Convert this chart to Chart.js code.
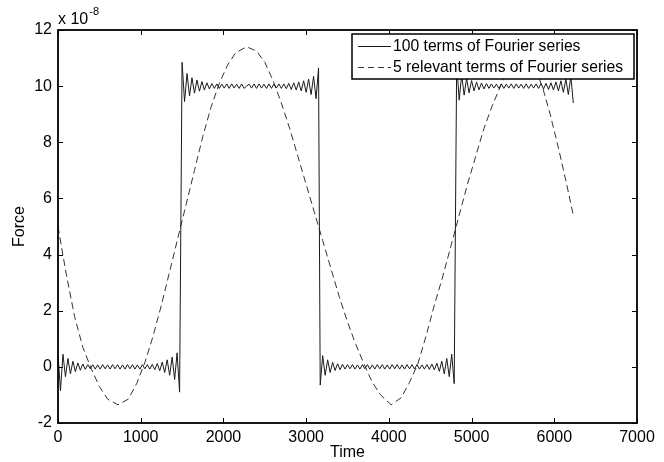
<!DOCTYPE html>
<html>
<head>
<meta charset="utf-8">
<script src="https://cdn.jsdelivr.net/npm/chart.js@4.4.1/dist/chart.umd.min.js"></script>
<style>
  html, body { margin: 0; padding: 0; background: #fff; }
</style>
</head>
<body>
<canvas id="forceChart" width="664" height="462"></canvas>
<script>
// tick values (force is in units of 1e-8)
const xTicks = [0, 1000, 2000, 3000, 4000, 5000, 6000, 7000];
const yTicks = [-2, 0, 2, 4, 6, 8, 10, 12];
const seriesLabels = ['100 terms of Fourier series', '5 relevant terms of Fourier series'];

const solidStarts = [0, 1500, 3170, 4820];
const solidStep = 30;
const solidLow1 = [0.45, -0.85, 0.45, -0.35, 0.3, -0.25, 0.2, -0.17, 0.14, -0.12,
    0.1, -0.09, 0.08, -0.07, 0.08, -0.08, 0.07, -0.08, 0.08, -0.07,
    0.07, -0.08, 0.08, -0.07, 0.08, -0.08, 0.07, -0.08, 0.08, -0.07,
    0.08, -0.08, 0.07, -0.08, 0.08, -0.07, 0.08, -0.08, 0.09, -0.1,
    0.12, -0.14, 0.17, -0.2, 0.25, -0.3, 0.35, -0.45, 0.5, -0.9];
const solidHigh1 = [10.85, 9.45, 10.45, 9.65, 10.3, 9.75, 10.22, 9.82, 10.16, 9.86,
    10.12, 9.9, 10.09, 9.92, 10.08, 9.92, 10.07, 9.93, 10.08, 9.92,
    10.08, 9.93, 10.07, 9.92, 10.08, 9.92, 10.0, 10.07, 9.93, 10.08,
    9.92, 10.08, 9.93, 10.07, 9.92, 10.08, 9.92, 10.07, 9.93, 10.08,
    9.92, 10.08, 9.91, 10.1, 9.88, 10.12, 9.86, 10.15, 9.83, 10.19,
    9.78, 10.25, 9.7, 10.35, 9.55, 10.65];
const solidLow2 = [-0.65, 0.4, -0.3, 0.25, -0.2, 0.16, -0.13, 0.11, -0.1, 0.09,
    -0.08, 0.08, -0.07, 0.08, -0.08, 0.07, -0.08, 0.08, -0.07, 0.08,
    -0.08, 0.07, -0.08, 0.08, -0.07, 0.08, -0.08, 0.07, -0.08, 0.08,
    -0.07, 0.08, -0.08, 0.07, -0.08, 0.08, -0.07, 0.08, -0.08, 0.08,
    -0.08, 0.07, -0.08, 0.08, -0.09, 0.1, -0.11, 0.13, -0.16, 0.2,
    -0.25, 0.3, -0.35, 0.45, -0.6];
const solidHigh2 = [10.85, 9.5, 10.4, 9.68, 10.28, 9.76, 10.2, 9.83, 10.15, 9.87,
    10.11, 9.9, 10.09, 9.92, 10.08, 9.93, 10.07, 9.92, 10.08, 9.92,
    10.07, 9.93, 10.08, 9.92, 10.08, 9.93, 10.07, 9.92, 10.08, 9.92,
    10.07, 9.93, 10.08, 9.92, 10.09, 9.9, 10.1, 9.88, 10.12, 9.86,
    10.15, 9.83, 10.19, 9.78, 10.25, 9.7, 10.35, 9.4];

// 5-term series
const dashTime = [0, 100, 200, 300, 400, 500, 600, 725, 850, 950,
    1050, 1150, 1250, 1350, 1450, 1550, 1650, 1750, 1850, 1950,
    2050, 2150, 2281, 2400, 2500, 2600, 2700, 2800, 2900, 3000,
    3100, 3200, 3300, 3400, 3500, 3600, 3700, 3800, 3900, 4027,
    4150, 4250, 4350, 4450, 4550, 4650, 4750, 4850, 4950, 5050,
    5150, 5250, 5350, 5450, 5600, 5750, 5864, 5950, 6050, 6150, 6230];
const dashForce = [5.0, 3.3, 1.8, 0.7, -0.05, -0.7, -1.15, -1.35, -1.15, -0.6,
    0.15, 1.1, 2.2, 3.4, 4.6, 5.8, 7.0, 8.2, 9.25, 10.1,
    10.75, 11.2, 11.4, 11.25, 10.85, 10.2, 9.4, 8.5, 7.5, 6.5,
    5.5, 4.5, 3.5, 2.5, 1.6, 0.8, 0.1, -0.55, -1.0, -1.35,
    -1.1, -0.55, 0.1, 1.1, 2.2, 3.2, 4.3, 5.4, 6.5, 7.5,
    8.5, 9.3, 10.0, 10.6, 11.2, 10.8, 9.9, 9.0, 7.8, 6.5, 5.4];

const solidPoints = [];
[solidLow1, solidHigh1, solidLow2, solidHigh2].forEach((run, i) => {
    run.forEach((v, j) => solidPoints.push({ x: solidStarts[i] + j * solidStep, y: v }));
});
const dashPoints = dashTime.map((t, i) => ({ x: t, y: dashForce[i] }));

const fontFamily = '"Liberation Sans", Arial, sans-serif';
const axisFont = { family: fontFamily, size: 16 };

// box, inward ticks, boxed legend and the x 10^-8 multiplier, matlab style
const matlabFrame = {
    id: 'matlabFrame',
    afterDatasetsDraw(chart) {
        const { ctx, chartArea: a, scales: { x, y } } = chart;
        ctx.save();
        ctx.strokeStyle = '#000';
        ctx.lineWidth = 1;
        ctx.beginPath();
        xTicks.forEach(v => {
            const px = Math.round(x.getPixelForValue(v)) + 0.5;
            ctx.moveTo(px, a.bottom); ctx.lineTo(px, a.bottom - 5);
            ctx.moveTo(px, a.top); ctx.lineTo(px, a.top + 5);
        });
        yTicks.forEach(v => {
            const py = Math.round(y.getPixelForValue(v)) + 0.5;
            ctx.moveTo(a.left, py); ctx.lineTo(a.left + 5, py);
            ctx.moveTo(a.right, py); ctx.lineTo(a.right - 5, py);
        });
        ctx.stroke();
        ctx.lineWidth = 1.8;
        ctx.strokeRect(a.left, a.top, a.right - a.left, a.bottom - a.top);

        // legend
        const lx = 352, ly = 34, lw = 282, lh = 45;
        ctx.fillStyle = '#fff';
        ctx.fillRect(lx, ly, lw, lh);
        ctx.lineWidth = 1.5;
        ctx.strokeRect(lx, ly, lw, lh);
        ctx.font = '15.7px ' + fontFamily;
        ctx.textBaseline = 'middle';
        ctx.textAlign = 'left';
        chart.data.datasets.forEach((ds, i) => {
            const ry = ly + 12 + i * 21;
            ctx.strokeStyle = ds.borderColor;
            ctx.lineWidth = 1;
            ctx.setLineDash(ds.borderDash ? [6, 4] : []);
            ctx.beginPath();
            ctx.moveTo(lx + 6, ry + 0.5);
            ctx.lineTo(lx + 39, ry + 0.5);
            ctx.stroke();
            ctx.setLineDash([]);
            ctx.fillStyle = '#000';
            ctx.fillText(ds.label, lx + 41, ry + 1);
        });

        // exponent
        ctx.textBaseline = 'alphabetic';
        ctx.fillStyle = '#000';
        ctx.font = '16px ' + fontFamily;
        ctx.fillText('x 10', a.left, a.top - 6);
        const w = ctx.measureText('x 10').width;
        ctx.font = '11px ' + fontFamily;
        ctx.fillText('-8', a.left + w + 1, a.top - 15);
        ctx.restore();
    }
};

const ctx = document.getElementById('forceChart').getContext('2d');
const forceChart = new Chart(ctx, {
    type: 'line',
    data: {
        datasets: [
            { label: seriesLabels[0], data: solidPoints, borderColor: '#1a1a1a', borderWidth: 1,
              pointRadius: 0, tension: 0 },
            { label: seriesLabels[1], data: dashPoints, borderColor: '#333', borderWidth: 1,
              borderDash: [7, 4], pointRadius: 0, tension: 0 }
        ]
    },
    options: {
        responsive: false,
        animation: false,
        layout: { padding: { top: 30, right: 27, left: 0, bottom: 0 } },
        plugins: { legend: { display: false }, tooltip: { enabled: false } },
        scales: {
            x: {
                type: 'linear', min: 0, max: 7000,
                afterBuildTicks: s => { s.ticks = xTicks.map(v => ({ value: v })); },
                afterFit: s => { s.height = 39; },
                grid: { display: false, drawTicks: false },
                border: { display: false },
                ticks: { color: '#000', font: axisFont, padding: 5, maxRotation: 0, callback: v => String(v) },
                title: { display: true, text: 'Time', color: '#000', font: axisFont, padding: { top: 0, bottom: 0 } }
            },
            y: {
                type: 'linear', min: -2, max: 12,
                afterBuildTicks: s => { s.ticks = yTicks.map(v => ({ value: v })); },
                afterFit: s => { s.width = 58; },
                grid: { display: false, drawTicks: false },
                border: { display: false },
                ticks: { color: '#000', font: axisFont, padding: 6, callback: v => String(v) },
                title: { display: true, text: 'Force', color: '#000', font: axisFont, padding: { top: 10, bottom: 0 } }
            }
        }
    },
    plugins: [matlabFrame]
});
</script>
</body>
</html>
